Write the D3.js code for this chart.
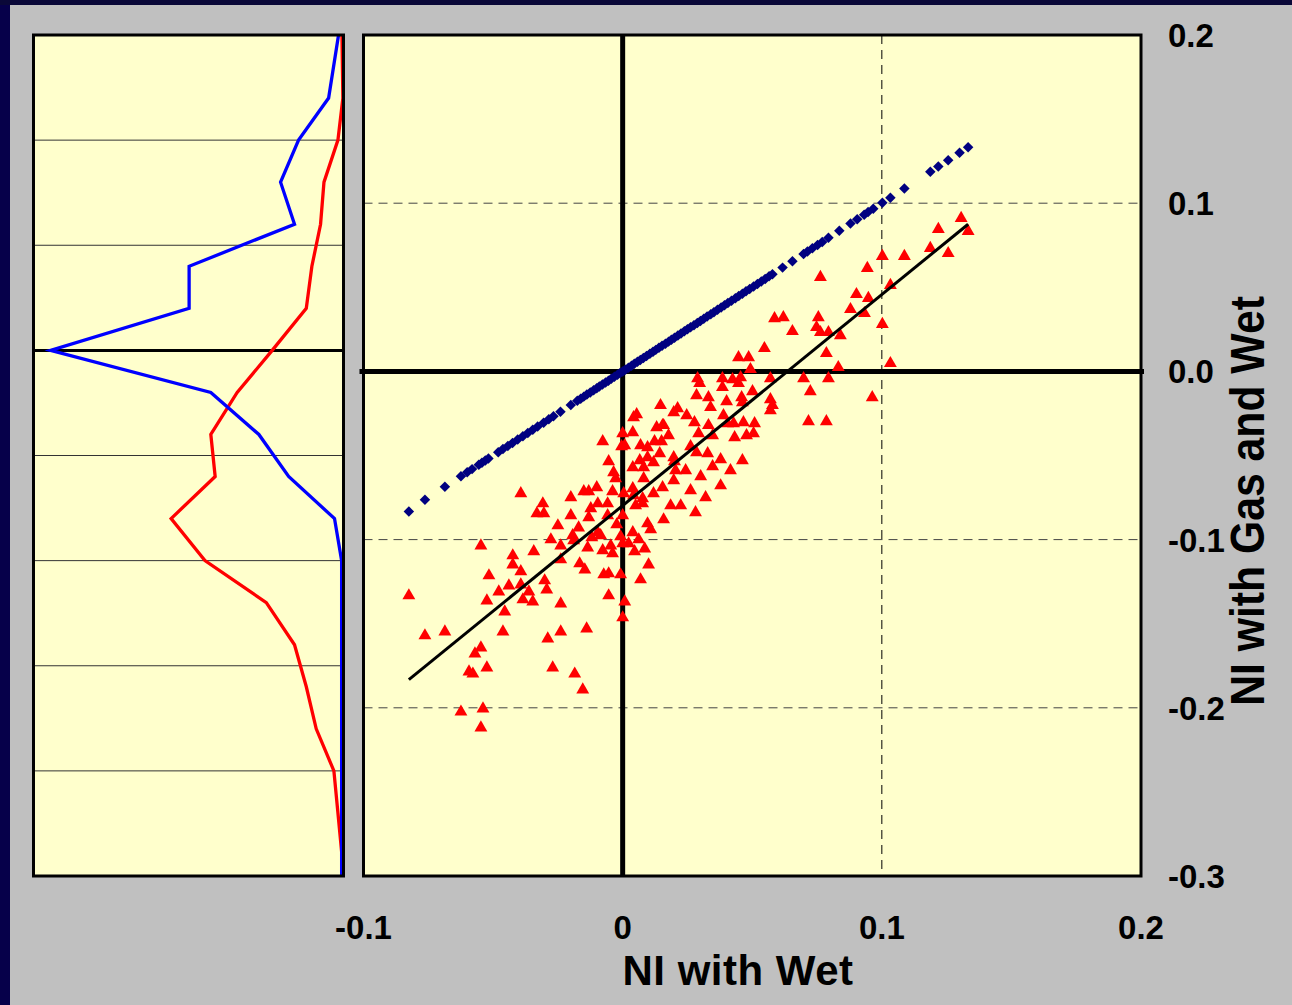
<!DOCTYPE html>
<html><head><meta charset="utf-8">
<script src="https://cdn.jsdelivr.net/npm/d3@7"></script>
<style>html,body{margin:0;padding:0;background:#c0c0c0;} svg{display:block}</style>
</head><body><svg id="c" width="1292" height="1005"></svg>
<script>
// ---------------- DATA ----------------
const xTickValues = [-0.1, 0, 0.1, 0.2];
const xTickLabels = ["-0.1", "0", "0.1", "0.2"];
const yTickValues = [0.2, 0.1, 0.0, -0.1, -0.2, -0.3];
const yTickLabels = ["0.2", "0.1", "0.0", "-0.1", "-0.2", "-0.3"];
const xTitle = "NI with Wet";
const yTitle = "NI with Gas and Wet";

// left marginal panel (frequency curves, values grow to the left)
const histBins   = [0.15, 0.12, 0.10, 0.08, 0.06, 0.04, 0.02, 0.00, -0.02, -0.04, -0.06, -0.08, -0.10, -0.12, -0.14, -0.16, -0.18, -0.20, -0.22, -0.24, -0.25];
const histBlue   = [1.6, 4.8, 14.5, 20.3, 15.8, 49.8, 49.8, 94.5, 42.8, 27.3, 17.7, 2.9, 0.6, 0.6, 0.6, 0.6, 0.6, 0.6, 0.6, 0.6, 0.6];
const histRed    = [0.5, 0.2, 1.8, 6.3, 7.4, 10.2, 12.0, 23.0, 34.3, 42.8, 41.4, 55.6, 44.7, 24.9, 15.8, 12.0, 8.8, 3.1, 1.8, 0.5, 0.2];
const histGrid   = [0.10, 0.05, -0.05, -0.10, -0.15, -0.20];

// blue diamonds: NI with Wet vs itself
const diagPoints = [
[-0.0825,-0.0833],[-0.0763,-0.0763],[-0.0686,-0.0686],[-0.0624,-0.0624],[-0.0600,-0.0600],[-0.0581,-0.0581],
[-0.0555,-0.0555],[-0.0543,-0.0543],[-0.0530,-0.0530],[-0.0518,-0.0518],[-0.0480,-0.0480],[-0.0462,-0.0462],
[-0.0443,-0.0443],[-0.0425,-0.0425],[-0.0405,-0.0405],[-0.0385,-0.0385],[-0.0366,-0.0366],[-0.0347,-0.0347],
[-0.0328,-0.0328],[-0.0305,-0.0305],[-0.0285,-0.0285],[-0.0267,-0.0267],[-0.0240,-0.0240],
[-0.0200,-0.0200],[-0.0175,-0.0175],[-0.0162,-0.0162],[-0.0150,-0.0150],[-0.0138,-0.0138],[-0.0125,-0.0125],
[-0.0112,-0.0112],[-0.0100,-0.0100],[-0.0090,-0.0090],[-0.0078,-0.0078],[-0.0066,-0.0066],[-0.0055,-0.0055],
[-0.0044,-0.0044],[-0.0032,-0.0032],[-0.0020,-0.0020],[-0.0010,-0.0010],[0.0000,0.0000],[0.0010,0.0010],
[0.0022,0.0022],[0.0034,0.0034],[0.0045,0.0045],[0.0057,0.0057],[0.0068,0.0068],[0.0080,0.0080],
[0.0092,0.0092],[0.0105,0.0105],[0.0117,0.0117],[0.0128,0.0128],[0.0140,0.0140],[0.0152,0.0152],
[0.0165,0.0165],[0.0177,0.0177],[0.0188,0.0188],[0.0200,0.0200],[0.0213,0.0213],[0.0225,0.0225],
[0.0238,0.0238],[0.0250,0.0250],[0.0262,0.0262],[0.0275,0.0275],[0.0288,0.0288],[0.0300,0.0300],
[0.0313,0.0313],[0.0326,0.0326],[0.0340,0.0340],[0.0352,0.0352],[0.0366,0.0366],[0.0380,0.0380],
[0.0393,0.0393],[0.0406,0.0406],[0.0420,0.0420],[0.0435,0.0435],[0.0448,0.0448],[0.0462,0.0462],
[0.0476,0.0476],[0.0490,0.0490],[0.0505,0.0505],[0.0520,0.0520],[0.0535,0.0535],[0.0550,0.0550],
[0.0565,0.0565],[0.0578,0.0578],[0.0617,0.0617],[0.0655,0.0655],[0.0698,0.0698],[0.0713,0.0713],
[0.0732,0.0732],[0.0752,0.0752],[0.0770,0.0770],[0.0794,0.0794],[0.0836,0.0836],[0.0879,0.0879],
[0.0905,0.0905],[0.0932,0.0932],[0.0947,0.0947],[0.0967,0.0967],[0.1002,0.1002],[0.1033,0.1033],
[0.1087,0.1087],[0.1187,0.1187],[0.1218,0.1218],[0.1256,0.1256],[0.1300,0.1300],[0.1333,0.1333]
];

// red triangles: NI with Wet vs NI with Gas and Wet
const scatterPoints = [
[0.0146,-0.0202],[0.0042,-0.0274],[0.0054,-0.0256],[0.0197,-0.0244],[0.0131,-0.0333],[0.0158,-0.0321],
[0.0000,-0.0369],[0.0039,-0.0363],[-0.0077,-0.0417],[-0.0004,-0.0446],[0.0008,-0.0440],[0.0069,-0.0440],
[0.0096,-0.0452],[0.0123,-0.0417],[0.0150,-0.0417],[0.0177,-0.0381],[0.0143,-0.0488],[-0.0054,-0.0536],
[0.0066,-0.0530],[0.0096,-0.0512],[0.0119,-0.0542],[0.0081,-0.0571],[0.0039,-0.0571],[-0.0035,-0.0601],
[-0.0027,-0.0637],[0.0200,-0.0536],[0.0204,-0.0589],[0.0197,-0.0649],[0.0081,-0.0637],[-0.0393,-0.0726],
[-0.0200,-0.0750],[-0.0150,-0.0714],[-0.0131,-0.0714],[-0.0100,-0.0690],[-0.0039,-0.0714],[0.0004,-0.0726],
[0.0039,-0.0696],[0.0042,-0.0738],[0.0077,-0.0756],[0.0119,-0.0726],[-0.0308,-0.0786],[-0.0331,-0.0845],
[-0.0304,-0.0845],[-0.0200,-0.0857],[-0.0123,-0.0815],[-0.0096,-0.0786],[-0.0058,-0.0786],[-0.0131,-0.0869],
[-0.0058,-0.0857],[-0.0023,-0.0911],[0.0000,-0.0857],[0.0050,-0.0798],[0.0077,-0.0786],[0.0185,-0.0798],
[0.0158,-0.0881],[-0.0250,-0.0917],[-0.0170,-0.0929],[-0.0193,-0.0976],[-0.0189,-0.1006],[-0.0096,-0.0958],
[-0.0119,-0.0988],[-0.0085,-0.0976],[-0.0277,-0.1000],[-0.0239,-0.1036],[-0.0135,-0.1048],[-0.0077,-0.1065],
[-0.0046,-0.1036],[-0.0039,-0.1083],[0.0000,-0.1024],[-0.0008,-0.0982],[0.0039,-0.0958],[0.0062,-0.1000],
[0.0023,-0.1024],[0.0046,-0.1071],[0.0085,-0.1054],[0.0096,-0.0905],[0.0108,-0.0940],[-0.0547,-0.1036],
[-0.0343,-0.1071],[-0.0239,-0.1119],[-0.0424,-0.1095],[-0.0424,-0.1149],[-0.0393,-0.1190],[-0.0166,-0.1143],
[-0.0146,-0.1179],[-0.0516,-0.1214],[-0.0301,-0.1244],[-0.0293,-0.1298],[-0.0439,-0.1274],[-0.0393,-0.1268],
[-0.0478,-0.1310],[-0.0524,-0.1363],[-0.0362,-0.1310],[-0.0385,-0.1357],[-0.0347,-0.1369],[-0.0239,-0.1381],
[-0.0073,-0.1208],[-0.0054,-0.1202],[-0.0008,-0.1208],[0.0100,-0.1149],[0.0069,-0.1238],[-0.0054,-0.1333],
[0.0008,-0.1369],[0.0000,-0.1464],[-0.0825,-0.1333],[-0.0455,-0.1429],[-0.0763,-0.1571],[-0.0686,-0.1548],
[-0.0462,-0.1548],[-0.0239,-0.1548],[-0.0139,-0.1530],[-0.0289,-0.1589],[-0.0547,-0.1643],[-0.0570,-0.1679],
[-0.0524,-0.1762],[-0.0593,-0.1786],[-0.0578,-0.1798],[-0.0270,-0.1762],[-0.0185,-0.1798],[-0.0154,-0.1893],
[-0.0624,-0.2024],[-0.0539,-0.2006],[-0.0547,-0.2119],
[0.1306,0.0911],[0.1218,0.0845],[0.1333,0.0833],[0.1187,0.0732],[0.1256,0.0702],[0.1002,0.0685],
[0.1087,0.0685],[0.0944,0.0613],[0.0763,0.0560],[0.1033,0.0512],[0.0902,0.0458],[0.0948,0.0435],
[0.0879,0.0369],[0.0933,0.0345],[0.0586,0.0315],[0.0620,0.0321],[0.0755,0.0321],[0.0748,0.0262],
[0.0763,0.0232],[0.0794,0.0232],[0.0840,0.0214],[0.0655,0.0238],[0.1002,0.0280],[0.0547,0.0137],
[0.0786,0.0107],[0.0447,0.0083],[0.0486,0.0083],[0.0493,0.0012],[0.0832,0.0024],[0.1033,0.0048],
[0.0289,-0.0042],[0.0297,-0.0071],[0.0385,-0.0042],[0.0385,-0.0095],[0.0424,-0.0048],[0.0455,-0.0036],
[0.0447,-0.0071],[0.0570,-0.0042],[0.0698,-0.0042],[0.0794,-0.0042],[0.0724,-0.0119],[0.0285,-0.0143],
[0.0331,-0.0155],[0.0339,-0.0214],[0.0401,-0.0179],[0.0459,-0.0155],[0.0462,-0.0185],[0.0501,-0.0119],
[0.0570,-0.0167],[0.0578,-0.0202],[0.0570,-0.0232],[0.0963,-0.0155],[0.0212,-0.0220],[0.0247,-0.0262],
[0.0389,-0.0262],[0.0277,-0.0304],[0.0331,-0.0321],[0.0405,-0.0310],[0.0428,-0.0310],[0.0466,-0.0304],
[0.0509,-0.0310],[0.0717,-0.0298],[0.0786,-0.0298],[0.0154,-0.0321],[0.0293,-0.0369],[0.0347,-0.0381],
[0.0432,-0.0393],[0.0478,-0.0381],[0.0505,-0.0369],[0.0262,-0.0446],[0.0285,-0.0482],[0.0328,-0.0488],
[0.0378,-0.0524],[0.0197,-0.0512],
[0.0243,-0.0589],[0.0301,-0.0625],[0.0347,-0.0565],[0.0416,-0.0589],[0.0462,-0.0530],[0.0262,-0.0708],
[0.0320,-0.0750],[0.0224,-0.0798],[0.0281,-0.0839],[0.0154,-0.0690],[0.0378,-0.0679]
];

// least-squares line through the red points
const fitLine = [[-0.0825, -0.1833], [0.1333, 0.0875]];

// ---------------- DRAW ----------------
const svg = d3.select("#c");
const FONT = "'Liberation Sans', Arial, Helvetica, sans-serif";

svg.append("rect").attr("width",1292).attr("height",1005).attr("fill","#c0c0c0");
svg.append("rect").attr("x",0).attr("y",0).attr("width",10).attr("height",1005).attr("fill","#06004a");
svg.append("rect").attr("x",0).attr("y",0).attr("width",1292).attr("height",5).attr("fill","#0a0838");

// ---- left marginal panel ----
const L = {x0:33.5, x1:343.5, y0:35, y1:876};
const xL = d3.scaleLinear().domain([0,100]).range([L.x1, L.x0]);
const yL = d3.scaleLinear().domain([-0.25,0.15]).range([L.y1, L.y0]);
const gL = svg.append("g");
gL.append("rect").attr("x",L.x0).attr("y",L.y0).attr("width",L.x1-L.x0).attr("height",L.y1-L.y0).attr("fill","#ffffcc");
gL.selectAll("line.hg").data(histGrid).join("line").attr("class","hg")
  .attr("x1",L.x0).attr("x2",L.x1).attr("y1",d=>yL(d)).attr("y2",d=>yL(d))
  .attr("stroke","#333").attr("stroke-width",1);
gL.append("line").attr("x1",L.x0).attr("x2",L.x1).attr("y1",yL(0)).attr("y2",yL(0))
  .attr("stroke","#000").attr("stroke-width",3);
const histLine = vals => d3.line().x((d,i)=>xL(vals[i])).y((d,i)=>yL(histBins[i]))(histBins);
gL.append("path").attr("d",histLine(histRed)).attr("fill","none").attr("stroke","#ff0000").attr("stroke-width",3.3).attr("stroke-linejoin","miter");
gL.append("path").attr("d",histLine(histBlue)).attr("fill","none").attr("stroke","#0000ff").attr("stroke-width",3.3).attr("stroke-linejoin","miter");
gL.append("rect").attr("x",L.x0).attr("y",L.y0).attr("width",L.x1-L.x0).attr("height",L.y1-L.y0)
  .attr("fill","none").attr("stroke","#000").attr("stroke-width",3);

// ---- main scatter panel ----
const M = {x0:363.5, x1:1141, y0:35, y1:876};
const x = d3.scaleLinear().domain([-0.1,0.2]).range([M.x0, M.x1]);
const y = d3.scaleLinear().domain([-0.3,0.2]).range([M.y1, M.y0]);
const g = svg.append("g");
g.append("rect").attr("x",M.x0).attr("y",M.y0).attr("width",M.x1-M.x0).attr("height",M.y1-M.y0).attr("fill","#ffffcc");

// dashed grid
g.selectAll("line.hgrid").data(yTickValues.filter(v=>v!==0 && v!==0.2 && v!==-0.3)).join("line").attr("class","hgrid")
  .attr("x1",M.x0).attr("x2",M.x1).attr("y1",d=>y(d)).attr("y2",d=>y(d))
  .attr("stroke","#444").attr("stroke-width",1).attr("stroke-dasharray","9,6");
g.selectAll("line.vgrid").data(xTickValues.filter(v=>v===0.1)).join("line").attr("class","vgrid")
  .attr("x1",d=>x(d)).attr("x2",d=>x(d)).attr("y1",M.y0).attr("y2",M.y1)
  .attr("stroke","#000").attr("stroke-width",1).attr("stroke-dasharray","9,6");

// zero axes
g.append("line").attr("x1",M.x0-4).attr("x2",M.x1+3).attr("y1",y(0)).attr("y2",y(0)).attr("stroke","#000").attr("stroke-width",5);
g.append("line").attr("x1",x(0)).attr("x2",x(0)).attr("y1",M.y0).attr("y2",M.y1).attr("stroke","#000").attr("stroke-width",5);

// blue diamonds
const sq = d3.symbol().type(d3.symbolSquare).size(55)();
g.selectAll("path.dia").data(diagPoints).join("path").attr("class","dia")
  .attr("d",sq).attr("transform",d=>`translate(${x(d[0])},${y(d[1])}) rotate(45)`)
  .attr("fill","#000080");

// red triangles
const tri = d3.symbol().type(d3.symbolTriangle).size(72)();
g.selectAll("path.tri").data(scatterPoints).join("path").attr("class","tri")
  .attr("d",tri).attr("transform",d=>`translate(${x(d[0])},${y(d[1])})`)
  .attr("fill","#ff0000");

// fit line
g.append("line").attr("x1",x(fitLine[0][0])).attr("y1",y(fitLine[0][1]))
  .attr("x2",x(fitLine[1][0])).attr("y2",y(fitLine[1][1]))
  .attr("stroke","#000").attr("stroke-width",3);

g.append("rect").attr("x",M.x0).attr("y",M.y0).attr("width",M.x1-M.x0).attr("height",M.y1-M.y0)
  .attr("fill","none").attr("stroke","#000").attr("stroke-width",3);

// tick labels
g.selectAll("text.xt").data(xTickValues).join("text").attr("class","xt")
  .attr("x",d=>x(d)).attr("y",939).attr("text-anchor","middle")
  .attr("font-family",FONT).attr("font-weight","bold").attr("font-size",33).attr("fill","#000")
  .text((d,i)=>xTickLabels[i]);
g.selectAll("text.yt").data(yTickValues).join("text").attr("class","yt")
  .attr("x",1168).attr("y",d=>y(d)+12).attr("text-anchor","start")
  .attr("font-family",FONT).attr("font-weight","bold").attr("font-size",33).attr("fill","#000")
  .text((d,i)=>yTickLabels[i]);

// axis titles
svg.append("text").attr("x",738).attr("y",985).attr("text-anchor","middle")
  .attr("font-family",FONT).attr("font-weight","bold").attr("font-size",42).attr("letter-spacing","0.5px")
  .attr("fill","#000").text(xTitle);
svg.append("text").attr("transform","translate(1264,501) rotate(-90) scale(0.89,1)")
  .attr("text-anchor","middle")
  .attr("font-family",FONT).attr("font-weight","bold").attr("font-size",48)
  .attr("fill","#000").text(yTitle);
</script>
</body></html>
